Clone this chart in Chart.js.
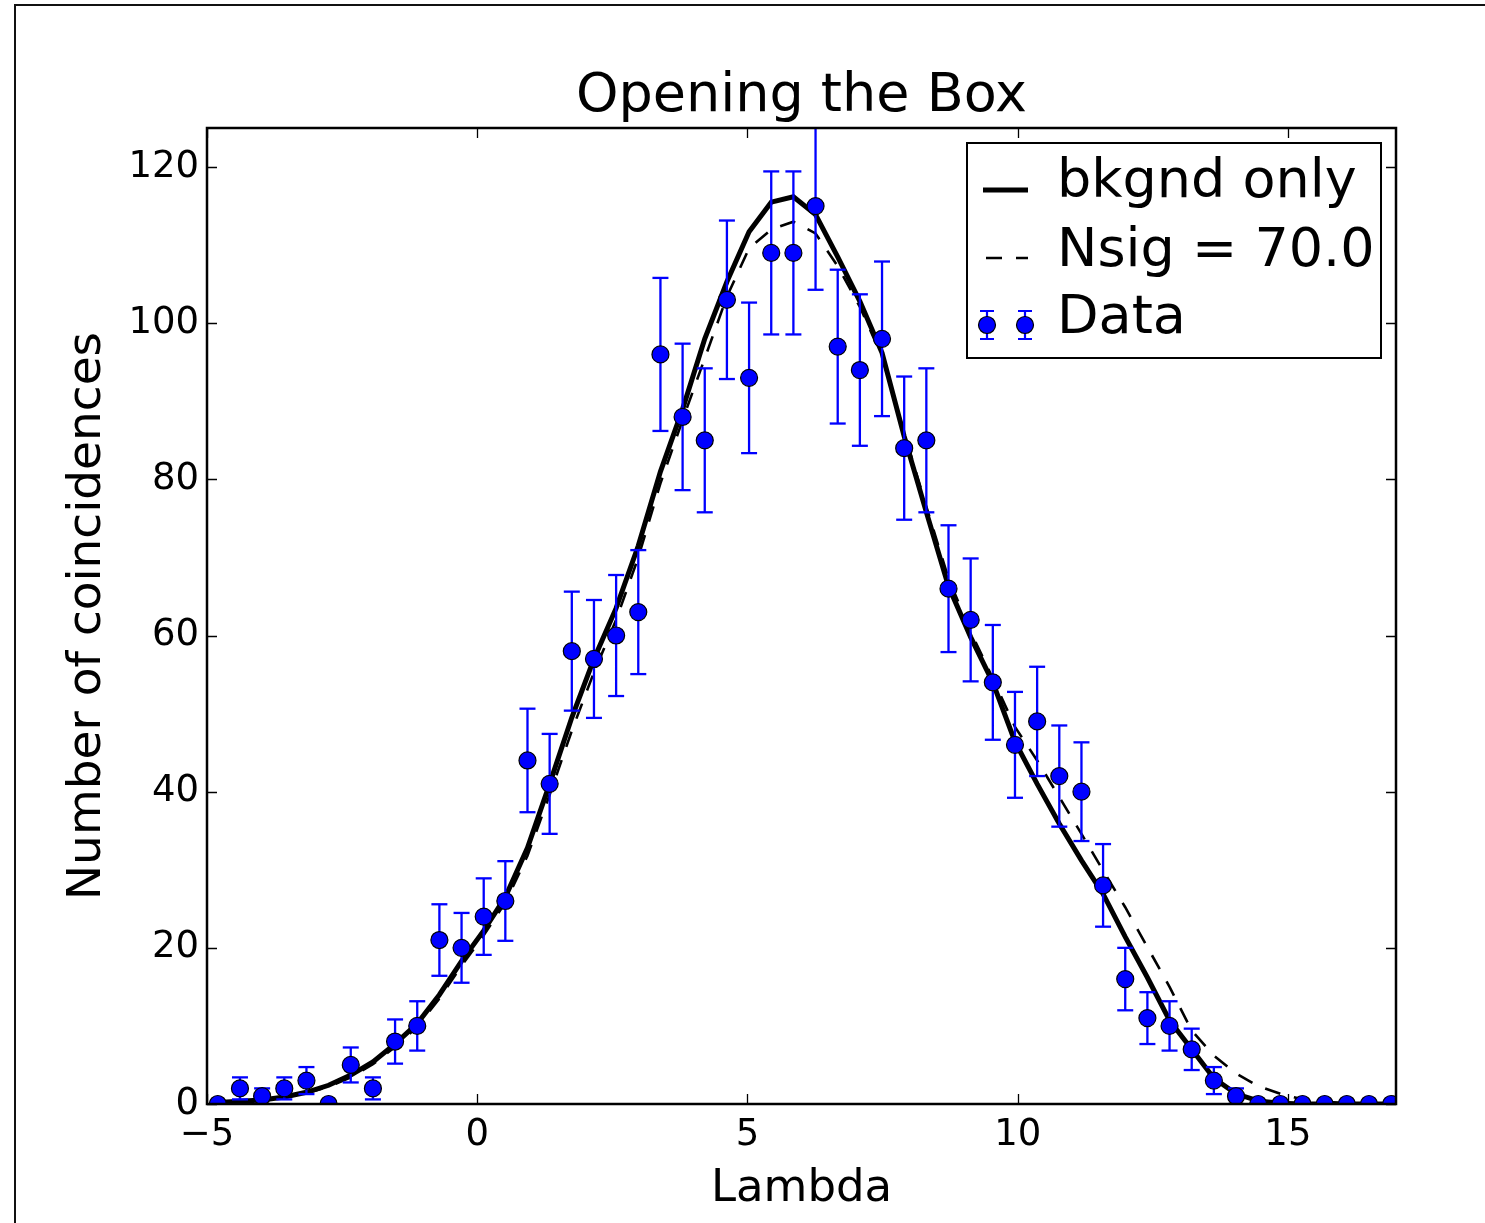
<!DOCTYPE html>
<html>
<head>
<meta charset="utf-8">
<script src="https://cdn.jsdelivr.net/npm/chart.js@4.4.1/dist/chart.umd.min.js"></script>
<style>
html,body{margin:0;padding:0;background:#fff;overflow:hidden}
canvas{display:block}
</style>
</head>
<body>
<canvas id="c" width="1485" height="1223"></canvas>
<script>
// ---- data ----
const lambdaBins = [-4.80,-4.39,-3.98,-3.57,-3.16,-2.75,-2.34,-1.93,-1.52,-1.11,
  -0.70,-0.29,0.12,0.52,0.93,1.34,1.75,2.16,2.57,2.98,
  3.39,3.80,4.21,4.62,5.03,5.44,5.85,6.26,6.67,7.08,
  7.49,7.90,8.31,8.72,9.13,9.54,9.95,10.36,10.77,11.18,
  11.58,11.99,12.40,12.81,13.22,13.63,14.04,14.45,14.86,15.27,
  15.68,16.09,16.50,16.91];
const dataCounts = [0,2,1,2,3,0,5,2,8,10,
  21,20,24,26,44,41,58,57,60,63,
  96,88,85,103,93,109,109,115,97,94,
  98,84,85,66,62,54,46,49,42,40,
  28,16,11,10,7,3,1,0,0,0,
  0,0,0,0];
const dataErrors = [0,1.41,1,1.41,1.73,0,2.24,1.41,2.83,3.16,
  4.58,4.47,4.90,5.10,6.63,6.40,7.62,7.55,7.75,7.94,
  9.80,9.38,9.22,10.15,9.64,10.44,10.44,10.72,9.85,9.70,
  9.90,9.17,9.22,8.12,7.87,7.35,6.78,7.00,6.48,6.32,
  5.29,4.00,3.32,3.16,2.65,1.73,1.00,0,0,0,
  0,0,0,0];
const bkgndOnly = [0.2,0.35,0.5,0.9,1.5,2.4,3.7,5.4,7.7,10.3,
  14,18.3,22.2,26.5,32.8,41,49.5,57,63.5,71.5,
  81,89,98,105.3,111.7,115.5,116.2,113.9,108.5,102.8,
  96.2,85.5,75.8,66.3,59.8,54,46.4,41,35.9,31.2,
  26.9,21.4,16.2,10.7,7,3.3,1.3,0.4,0.1,0,
  0,0,0,0];
const nsig70 = [0.2,0.3,0.5,0.8,1.4,2.2,3.4,5.1,7.3,9.9,
  13.5,17.7,21.6,25.8,31.8,39.6,47.8,55.3,62,70,
  79.5,87.6,95.5,103.4,109.6,112,113,111.5,107.3,102.1,
  95.7,86,76.5,67.3,60.5,54.5,48.3,44,39.3,34.6,
  29.9,25.2,20.1,15,9.4,6.2,3.9,2.3,1.3,0.6,
  0.3,0.1,0,0];
const xTickValues = [-5,0,5,10,15];
const yTickValues = [0,20,40,60,80,100,120];
const seriesLabels = ['bkgnd only','Nsig = 70.0','Data'];
const chartTitle = 'Opening the Box';
const xTitle = 'Lambda';
const yTitle = 'Number of coincidences';

// ---- build library structures ----
const FONT = "'DejaVu Sans', 'Liberation Sans', sans-serif";
const toPts = ys => lambdaBins.map((x,i) => ({x: x, y: ys[i]}));
const errPts = [];
lambdaBins.forEach((x,i) => {
  if (dataErrors[i] > 0) {
    errPts.push({x: x, y: dataCounts[i] - dataErrors[i]});
    errPts.push({x: x, y: dataCounts[i] + dataErrors[i]});
    errPts.push({x: x, y: null});
  }
});
const fmt = v => String(v).replace('-', '\u2212');

const framePlugin = {
  id: 'framePlugin',
  beforeDraw(chart) {
    const ctx = chart.ctx;
    ctx.save();
    ctx.fillStyle = '#fff';
    ctx.fillRect(0, 0, chart.width, chart.height);
    ctx.strokeStyle = '#111';
    ctx.lineWidth = 2;
    ctx.strokeRect(15, 5, chart.width + 50, chart.height + 50);
    ctx.restore();
  },
  afterDatasetsDraw(chart) {
    const ctx = chart.ctx;
    const a = chart.chartArea;
    const xs = chart.scales.x, ys = chart.scales.y;
    ctx.save();
    ctx.strokeStyle = '#000';
    ctx.lineWidth = 1.3;
    const TL = 10;
    ctx.beginPath();
    xs.ticks.forEach(t => {
      const px = Math.round(xs.getPixelForValue(t.value)) + 0.5;
      ctx.moveTo(px, a.bottom); ctx.lineTo(px, a.bottom - TL);
      ctx.moveTo(px, a.top); ctx.lineTo(px, a.top + TL);
    });
    ys.ticks.forEach(t => {
      const py = Math.round(ys.getPixelForValue(t.value)) + 0.5;
      ctx.moveTo(a.left, py); ctx.lineTo(a.left + TL, py);
      ctx.moveTo(a.right, py); ctx.lineTo(a.right - TL, py);
    });
    ctx.stroke();
    ctx.lineWidth = 2.5;
    ctx.strokeRect(a.left, a.top, a.right - a.left, a.bottom - a.top);
    ctx.restore();
  },
  afterDraw(chart) {
    // legend box inside the plot area, upper right
    const ctx = chart.ctx;
    const a = chart.chartArea;
    const ds = chart.data.datasets;
    const bw = 414, bh = 215;
    const bx = a.right - 15 - bw, by = a.top + 15;
    ctx.save();
    ctx.fillStyle = '#fff';
    ctx.fillRect(bx, by, bw, bh);
    ctx.strokeStyle = '#000';
    ctx.lineWidth = 2;
    ctx.strokeRect(bx, by, bw, bh);
    const sx0 = bx + 16, sx1 = bx + 61, tx = bx + 90;
    const rows = [by + 54, by + 123, by + 190];
    ctx.font = '54px ' + FONT;
    ctx.fillStyle = '#000';
    ctx.textBaseline = 'alphabetic';
    ctx.textAlign = 'left';
    // row 1: solid
    const solid = ds.find(d => d.label === seriesLabels[0]);
    ctx.strokeStyle = solid.borderColor; ctx.lineWidth = solid.borderWidth;
    ctx.beginPath(); ctx.moveTo(sx0, rows[0] - 7); ctx.lineTo(sx1, rows[0] - 7); ctx.stroke();
    ctx.fillText(solid.label, tx, rows[0]);
    // row 2: dashed
    const dashed = ds.find(d => d.label === seriesLabels[1]);
    ctx.strokeStyle = dashed.borderColor; ctx.lineWidth = dashed.borderWidth;
    ctx.setLineDash(dashed.borderDash);
    ctx.beginPath(); ctx.moveTo(sx0 + 3, rows[1] - 8); ctx.lineTo(sx1, rows[1] - 8); ctx.stroke();
    ctx.setLineDash([]);
    ctx.fillText(dashed.label, tx, rows[1]);
    // row 3: error-bar markers
    const pts = ds.find(d => d.label === seriesLabels[2]);
    const my = rows[2] - 8;
    [bx + 20, bx + 58].forEach(mx => {
      ctx.strokeStyle = '#0000ff'; ctx.lineWidth = 2.2;
      ctx.beginPath();
      ctx.moveTo(mx, my - 14); ctx.lineTo(mx, my + 14);
      ctx.moveTo(mx - 7, my - 14); ctx.lineTo(mx + 7, my - 14);
      ctx.moveTo(mx - 7, my + 14); ctx.lineTo(mx + 7, my + 14);
      ctx.stroke();
      ctx.beginPath(); ctx.arc(mx, my, pts.pointRadius, 0, Math.PI * 2);
      ctx.fillStyle = pts.pointBackgroundColor; ctx.fill();
      ctx.strokeStyle = pts.pointBorderColor; ctx.lineWidth = pts.pointBorderWidth; ctx.stroke();
    });
    ctx.fillStyle = '#000';
    ctx.fillText(pts.label, tx, rows[2]);
    ctx.restore();
  }
};

new Chart(document.getElementById('c'), {
  type: 'line',
  data: {
    datasets: [
      { label: seriesLabels[1], data: toPts(nsig70), borderColor: '#000', borderWidth: 2.6,
        borderDash: [16, 14], pointRadius: 0, tension: 0, fill: false, order: 4, clip: 0 },
      { label: seriesLabels[0], data: toPts(bkgndOnly), borderColor: '#000', borderWidth: 5,
        pointRadius: 0, tension: 0, fill: false, order: 3, clip: 0 },
      { label: 'errors', data: errPts, borderColor: '#0000ff', borderWidth: 2.3, spanGaps: false,
        pointStyle: 'line', pointRadius: 8, pointHoverRadius: 8, pointBorderColor: '#0000ff',
        pointBorderWidth: 2.3, tension: 0, fill: false, order: 2, clip: 0 },
      { label: seriesLabels[2], data: toPts(dataCounts), showLine: false, pointRadius: 8.5,
        pointHoverRadius: 8.5, pointBackgroundColor: '#0000ff', pointBorderColor: '#000',
        pointBorderWidth: 1.2, order: 1, clip: 0 }
    ]
  },
  options: {
    responsive: false,
    animation: false,
    events: [],
    layout: { padding: { left: 0, right: 89, top: 0, bottom: 0 } },
    plugins: {
      legend: { display: false },
      tooltip: { enabled: false },
      title: { display: true, text: chartTitle, color: '#000', fullSize: false,
        font: { family: FONT, size: 54, weight: 'normal', lineHeight: 1.0 },
        padding: { top: 70, bottom: 4 } }
    },
    scales: {
      x: {
        type: 'linear', min: -5, max: 17,
        afterBuildTicks: s => { s.ticks = xTickValues.map(v => ({value: v})); },
        afterFit: s => { s.height = 119; },
        grid: { display: false, drawTicks: false }, border: { display: false },
        ticks: { color: '#000', font: { family: FONT, size: 37 }, padding: 9,
          maxRotation: 0, autoSkip: false, callback: v => fmt(v) },
        title: { display: true, text: xTitle, color: '#000',
          font: { family: FONT, size: 45, lineHeight: 1.2 }, padding: { top: 0, bottom: 7 } }
      },
      y: {
        type: 'linear', min: 0, max: 125,
        afterBuildTicks: s => { s.ticks = yTickValues.map(v => ({value: v})); },
        afterFit: s => { s.width = 207; },
        grid: { display: false, drawTicks: false }, border: { display: false },
        ticks: { color: '#000', font: { family: FONT, size: 37 }, padding: 8,
          autoSkip: false, callback: v => fmt(v) },
        title: { display: true, text: yTitle, color: '#000',
          font: { family: FONT, size: 47, lineHeight: 1.2 }, padding: { top: 60, bottom: 0 } }
      }
    }
  },
  plugins: [framePlugin]
});
</script>
</body>
</html>
